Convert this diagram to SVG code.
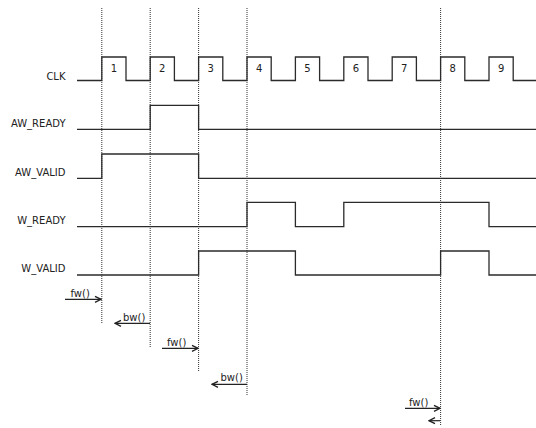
<svg xmlns="http://www.w3.org/2000/svg" width="536" height="428" viewBox="0 0 536 428">
<style>
.sig{fill:none;stroke:#2b2b2b;stroke-width:1.3}
.dot{fill:none;stroke:#333;stroke-width:1;stroke-dasharray:1,1}
.arr{fill:none;stroke:#222;stroke-width:1.2}
.lbl{font-family:"DejaVu Sans",sans-serif;font-size:10px;fill:#222;text-anchor:end}
.num{font-family:"DejaVu Sans",sans-serif;font-size:10px;fill:#222;text-anchor:middle}
.fn{font-family:"DejaVu Sans",sans-serif;font-size:10px;fill:#222}
</style>
<defs>
<marker id="ah" markerWidth="8" markerHeight="8" refX="7" refY="4" orient="auto" markerUnits="userSpaceOnUse">
<path d="M1,1 L7,4 L1,7" fill="none" stroke="#222" stroke-width="1.3"/>
</marker>
</defs>
<rect width="536" height="428" fill="#fff"/>
<g id="grid">
<line class="dot" x1="101.8" y1="8" x2="101.8" y2="324"/>
<line class="dot" x1="150.2" y1="8" x2="150.2" y2="348"/>
<line class="dot" x1="198.6" y1="8" x2="198.6" y2="372"/>
<line class="dot" x1="247" y1="8" x2="247" y2="396"/>
<line class="dot" x1="440.6" y1="8" x2="440.6" y2="426"/>
</g>
<g id="clk">
<text class="lbl" x="65.5" y="80">CLK</text>
<path class="sig" d="M77,80.5 H101.8 V57 H126 V80.5 H150.2 V57 H174.4 V80.5 H198.6 V57 H222.8 V80.5 H247 V57 H271.2 V80.5 H295.4 V57 H319.6 V80.5 H343.8 V57 H368 V80.5 H392.2 V57 H416.4 V80.5 H440.6 V57 H464.8 V80.5 H489 V57 H513.2 V80.5 H536"/>
<text class="num" x="114" y="72">1</text>
<text class="num" x="162.3" y="72">2</text>
<text class="num" x="210.7" y="72">3</text>
<text class="num" x="259.1" y="72">4</text>
<text class="num" x="307.5" y="72">5</text>
<text class="num" x="355.9" y="72">6</text>
<text class="num" x="404.3" y="72">7</text>
<text class="num" x="452.7" y="72">8</text>
<text class="num" x="501.1" y="72">9</text>
</g>
<g id="aw_ready">
<text class="lbl" x="65.5" y="127">AW_READY</text>
<path class="sig" d="M77,129.3 H150.2 V105.3 H198.6 V129.3 H536"/>
</g>
<g id="aw_valid">
<text class="lbl" x="65.5" y="176.3">AW_VALID</text>
<path class="sig" d="M77,178.3 H101.8 V154 H198.6 V178.3 H536"/>
</g>
<g id="w_ready">
<text class="lbl" x="65.5" y="223.8">W_READY</text>
<path class="sig" d="M77,226.7 H247 V202.3 H295.4 V226.7 H343.8 V202.3 H489 V226.7 H536"/>
</g>
<g id="w_valid">
<text class="lbl" x="65.5" y="271.5">W_VALID</text>
<path class="sig" d="M77,275 H198.6 V251 H295.4 V275 H440.6 V251 H489 V275 H536"/>
</g>
<g id="connectors">
<path class="arr" d="M65,299.3 H101" marker-end="url(#ah)"/>
<path class="arr" d="M150,323.3 H115" marker-end="url(#ah)"/>
<path class="arr" d="M162,348.3 H198" marker-end="url(#ah)"/>
<path class="arr" d="M247,384.3 H212" marker-end="url(#ah)"/>
<path class="arr" d="M405,408.3 H440" marker-end="url(#ah)"/>
<path class="arr" d="M440,420.7 H429" marker-end="url(#ah)"/>
</g>
<g id="calls">
<text class="fn" x="70.5" y="297.3">fw()</text>
<text class="fn" x="123" y="320.8">bw()</text>
<text class="fn" x="167" y="345.5">fw()</text>
<text class="fn" x="220.5" y="381">bw()</text>
<text class="fn" x="409" y="405.5">fw()</text>
</g>
</svg>
